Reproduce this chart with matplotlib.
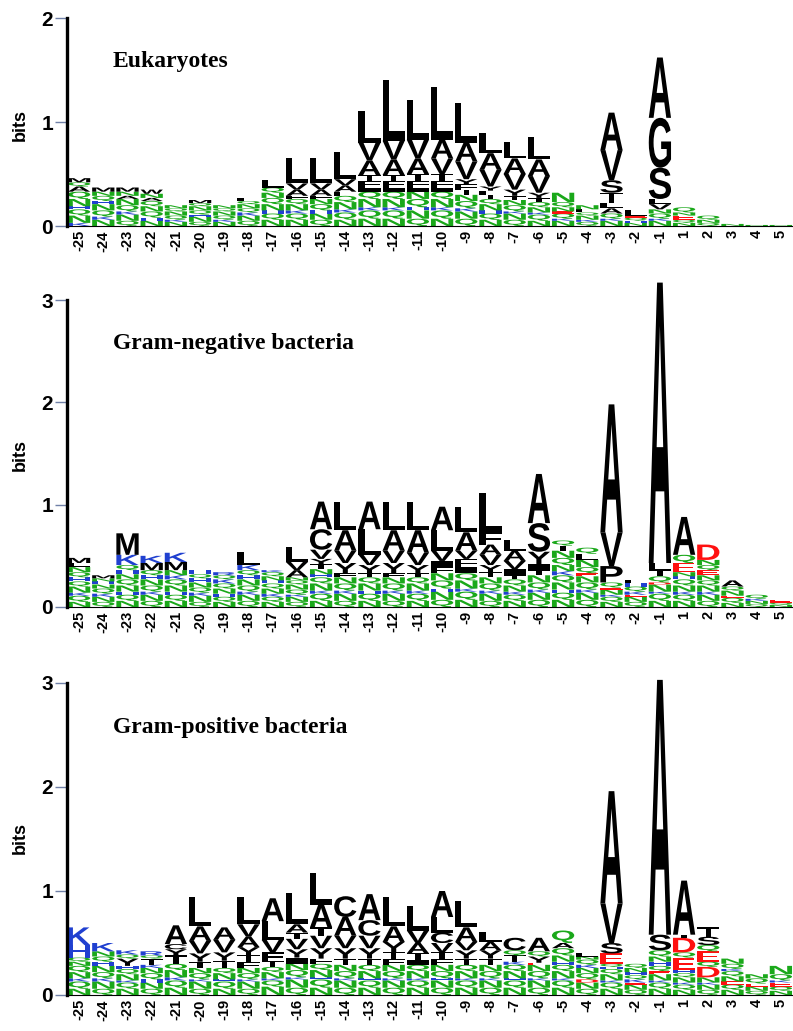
import matplotlib
matplotlib.use('Agg')
import matplotlib.pyplot as plt
from matplotlib.textpath import TextPath
from matplotlib.patches import PathPatch
from matplotlib.font_manager import FontProperties
from matplotlib.transforms import Affine2D

# positions -25 .. -1, 1 .. 5
POSITIONS = ['-25', '-24', '-23', '-22', '-21', '-20', '-19', '-18', '-17', '-16',
             '-15', '-14', '-13', '-12', '-11', '-10', '-9', '-8', '-7', '-6',
             '-5', '-4', '-3', '-2', '-1', '1', '2', '3', '4', '5']

# each column: letters stacked bottom -> top, "<letter><bits>"
EUK = [
    "K.03 N.07 Q.06 H.03 N.07 Q.07 A.05 Q.04 M.04",
    "N.06 K.03 Q.06 N.06 H.03 Q.05 N.04 M.04",
    "Q.05 N.06 K.03 Q.06 N.06 A.03 N.04 M.04",
    "N.05 H.03 Q.06 N.05 Q.05 A.03 N.04 W.04",
    "N.04 K.02 Q.04 N.04 Q.03 N.03",
    "Q.04 N.05 H.02 Q.04 N.04 Q.03 M.03",
    "N.04 K.02 Q.04 N.04 Q.03 N.03",
    "Q.05 N.05 K.03 Q.04 N.04 Q.03 L.03",
    "N.06 Q.06 H.03 N.06 Q.06 N.05 Q.05 L.07",
    "N.06 Q.06 K.03 N.06 Q.05 F.03 A.06 V.06 L.24",
    "Q.06 N.06 H.03 Q.06 N.05 F.03 A.06 V.06 L.24",
    "N.06 Q.07 K.03 N.07 Q.06 F.04 A.06 V.06 L.26",
    "N.07 Q.08 K.03 N.08 Q.07 I.04 F.06 T.06 A.14 V.17 L.31",
    "N.07 Q.08 K.03 N.08 Q.07 I.04 F.06 T.06 A.15 V.18 L.58",
    "Q.07 N.08 H.03 Q.08 N.07 I.04 F.06 T.07 A.15 V.18 L.38",
    "N.07 Q.08 K.03 N.08 Q.07 I.04 F.06 T.07 V.15 A.18 L.51",
    "Q.07 N.07 K.03 Q.07 N.06 T.05 F.05 Y.05 V.17 A.18 L.38",
    "N.06 Q.06 H.03 N.06 Q.05 T.04 F.04 Y.04 V.16 A.16 L.19",
    "Q.06 N.06 K.02 Q.06 N.05 T.04 Y.06 V.15 A.15 L.16",
    "N.05 Q.06 K.02 N.05 Q.05 T.04 Y.05 V.16 A.16 L.22",
    "N.05 K.02 Q.05 E.02 N.04 Q.05 N.09",
    "Q.04 K.02 N.04 Q.03 L.03 N.04",
    "N.05 K.02 Q.05 A.05 L.05 T.10 S.12 V.29 A.36",
    "N.03 H.02 Q.03 E.02 L.05",
    "N.05 K.02 Q.05 N.04 V.05 L.05 S.30 G.48 A.58",
    "N.03 Q.03 E.04 N.03 Q.05",
    "Q.03 N.03 Q.04",
    "N.02",
    "N.01",
    "N.01",
]

GNEG = [
    "N.05 Q.06 K.03 N.06 Q.05 H.04 Q.05 N.05 L.04 M.05",
    "Q.05 N.05 K.03 Q.05 N.04 H.03 N.03 M.03",
    "N.06 Q.06 H.03 N.06 Q.06 N.05 H.04 Q.05 K.10 M.21",
    "Q.06 N.06 K.03 Q.06 N.06 H.04 Q.05 M.07 K.07",
    "N.06 Q.06 H.03 N.06 Q.06 K.04 N.05 M.08 K.09",
    "Q.05 N.06 K.03 Q.05 N.05 H.04 Q.04 H.04",
    "N.05 Q.05 H.03 N.05 Q.05 K.04 Q.04 R.03",
    "Q.06 N.06 K.03 Q.06 N.06 H.04 Q.05 K.05 L.13",
    "N.05 Q.05 K.03 N.05 Q.05 H.03 N.04 Q.04 K.02",
    "Q.05 N.05 K.02 Q.05 N.05 Q.04 N.03 A.07 V.08 L.15",
    "N.06 Q.07 K.03 N.07 Q.06 H.03 N.05 T.05 Y.05 V.09 C.20 A.27",
    "Q.06 N.07 K.03 Q.07 N.06 F.04 Y.10 V.12 A.20 L.28",
    "N.06 Q.07 H.03 N.07 Q.06 T.04 Y.08 V.10 L.25 A.27",
    "Q.06 N.07 K.03 Q.07 N.06 F.04 Y.10 V.12 A.20 L.28",
    "N.06 Q.07 K.03 N.07 Q.06 T.04 Y.08 V.12 A.22 L.28",
    "Q.07 N.08 H.03 Q.08 N.07 F.06 I.06 V.10 L.20 A.23",
    "N.07 Q.08 K.03 N.08 Q.07 I.06 F.08 V.08 A.18 L.25",
    "Q.06 N.07 K.03 Q.07 N.06 T.05 Y.07 V.10 A.10 F.12 L.38",
    "N.06 Q.06 K.03 N.06 Q.06 T.04 I.06 V.08 A.10 L.10",
    "Q.07 N.07 K.03 Q.07 N.07 T.05 I.06 Y.12 S.28 A.48",
    "N.07 Q.07 H.03 N.07 Q.07 K.04 N.06 Q.07 N.07 T.05 Q.05",
    "Q.07 N.07 K.03 Q.07 N.06 E.03 Q.06 N.07 L.06 Q.06",
    "N.05 Q.05 K.02 N.05 E.02 Q.05 P.16 V.33 A1.25",
    "Q.05 N.05 E.02 K.03 Q.05 H.03 L.03",
    "N.06 Q.07 K.02 N.07 D.02 Q.06 T.06 L.07 A2.74",
    "N.06 Q.06 K.03 N.06 Q.06 H.03 N.04 E.09 Q.08 A.37",
    "Q.06 N.06 K.03 N.06 Q.05 N.05 E.05 Q.05 N.05 D.15",
    "N.04 Q.05 E.02 N.05 Q.04 A.06",
    "Q.03 N.03 K.02 Q.04",
    "N.02 Q.02 E.03",
]

GPOS = [
    "N.06 Q.07 K.03 N.06 Q.06 N.04 Q.04 H.12 K.17",
    "Q.06 N.07 K.03 Q.06 N.06 H.04 Q.05 N.05 K.08",
    "N.06 Q.06 K.02 N.06 Q.05 H.03 Y.07 Q.04 K.04",
    "Q.06 N.06 H.03 Q.06 N.05 K.03 T.06 Q.03 R.04",
    "N.07 Q.07 K.03 N.07 Q.06 T.08 Y.06 C.05 A.18",
    "Q.06 N.07 K.02 Q.06 N.05 T.06 Y.08 V.12 A.14 L.28",
    "N.06 Q.07 H.02 N.06 Q.05 T.07 Y.08 V.12 A.12",
    "Q.06 N.07 K.02 Q.06 N.05 F.06 T.06 Y.08 A.10 V.12 L.26",
    "N.08 Q.06 K.02 N.06 Q.05 T.06 F.08 V.12 L.18 A.22",
    "Q.07 N.08 K.02 Q.07 N.06 I.06 Y.08 V.10 T.06 A.08 L.30",
    "N.07 Q.08 H.02 N.07 Q.06 F.05 Y.10 V.12 T.08 A.22 L.30",
    "Q.07 N.07 K.02 Q.07 N.06 T.06 Y.10 V.12 A.18 C.20",
    "N.07 Q.07 H.02 N.07 Q.06 T.06 Y.10 V.12 C.15 A.25",
    "Q.07 N.07 K.02 Q.07 N.06 F.06 T.06 Y.10 A.15 L.28",
    "N.07 Q.07 K.02 N.07 Q.06 I.05 T.06 A.10 V.12 L.24",
    "Q.07 N.07 H.02 Q.07 N.06 F.06 T.06 V.09 C.10 L.15 A.25",
    "N.07 Q.07 K.02 N.07 Q.06 T.06 Y.08 V.08 A.14 L.25",
    "Q.07 N.07 K.02 Q.07 N.06 T.06 Y.08 A.08 L.10",
    "N.07 Q.07 H.02 N.07 Q.06 K.03 T.06 Q.05 C.12",
    "Q.07 N.07 K.02 Q.07 N.06 E.02 Y.06 Q.05 A.13",
    "N.07 Q.07 K.02 N.07 Q.06 H.03 N.06 Q.07 A.05 Q.12",
    "Q.06 N.06 D.03 Q.06 N.05 K.03 Q.05 N.03 L.03",
    "N.06 Q.06 K.02 N.06 Q.05 H.02 Q.03 E.10 S.10 V.38 A1.08",
    "Q.05 N.05 E.02 K.03 Q.04 H.03 N.04 Q.04",
    "N.06 Q.06 K.02 N.06 E.03 Q.05 H.04 N.05 Q.06 S.15 A2.45",
    "N.05 Q.05 K.02 N.05 Q.04 H.03 E.12 Q.05 D.14 T.03 A.52",
    "Q.05 N.05 K.02 N.05 D.10 Q.05 E.10 Q.06 S.08 T.09",
    "N.05 Q.05 E.03 N.05 Q.05 K.02 Q.05 N.05",
    "Q.04 N.04 E.03 Q.05 N.04",
    "N.04 Q.04 E.04 K.02 Q.06 N.08",
]

PANELS = [
    ("Eukaryotes", EUK, 2),
    ("Gram-negative bacteria", GNEG, 3),
    ("Gram-positive bacteria", GPOS, 3),
]

COLORS = {}
for c in 'AVLIPWFMGSTYC':
    COLORS[c] = '#000000'
for c in 'NQ':
    COLORS[c] = '#1aa81a'
for c in 'KRH':
    COLORS[c] = '#2040d0'
for c in 'DE':
    COLORS[c] = '#ff1010'

fp = FontProperties(family='Liberation Sans', weight='bold')
_glyphs = {}


def draw_letter(ax, ch, x, y, w, h):
    if ch not in _glyphs:
        _glyphs[ch] = TextPath((0, 0), ch, size=1, prop=fp)
    tp = _glyphs[ch]
    bb = tp.get_extents()
    tr = (Affine2D().translate(-bb.x0, -bb.y0)
          .scale(w / bb.width, h / bb.height).translate(x, y))
    ax.add_patch(PathPatch(tr.transform_path(tp), fc=COLORS[ch], ec='none',
                           clip_on=False))


fig = plt.figure(figsize=(7.93, 10.31), dpi=100)
W, H = 793.0, 1031.0

# (bottom px of y=0, axes height px, title y px, "bits" y px)
layout = [(226, 208, 62, 125), (607, 307, 343, 455), (995, 312, 728, 838)]

for (title, cols, ymax), (y0, hpx, ty, by) in zip(PANELS, layout):
    ax = fig.add_axes([67 / W, (H - y0) / H, 726 / W, hpx / H])
    for i, col in enumerate(cols):
        yb = 0.0
        for tok in col.split():
            ch, h = tok[0], float(tok[1:])
            draw_letter(ax, ch, i - 0.46, yb, 0.92, h)
            yb += h
    ax.set_xlim(-0.5, len(POSITIONS) - 0.5)
    ax.set_ylim(0, ymax)
    ax.set_xticks(range(len(POSITIONS)))
    ax.set_xticklabels(POSITIONS, rotation=90, fontsize=10.5, fontweight='bold',
                       family='Liberation Sans')
    ax.set_yticks(range(ymax + 1))
    ax.set_yticklabels([str(v) for v in range(ymax + 1)], fontsize=15,
                       fontweight='bold', family='Liberation Sans')
    ax.tick_params(axis='x', length=0, pad=3)
    ax.tick_params(axis='y', length=9, width=1, color='#7080a8', pad=1)
    for s in ('top', 'right'):
        ax.spines[s].set_visible(False)
    ax.spines['left'].set_linewidth(2.4)
    ax.spines['bottom'].set_linewidth(0.8)
    ax.patch.set_alpha(0)
    fig.text(113 / W, 1 - ty / H, title, family='Liberation Serif',
             fontweight='bold', fontsize=17, va='center', ha='left')
    fig.text(20 / W, 1 - by / H, 'bits', rotation=90, fontsize=13,
             fontweight='bold', family='Liberation Sans', va='center', ha='center')

fig.savefig('out.png', dpi=100)
